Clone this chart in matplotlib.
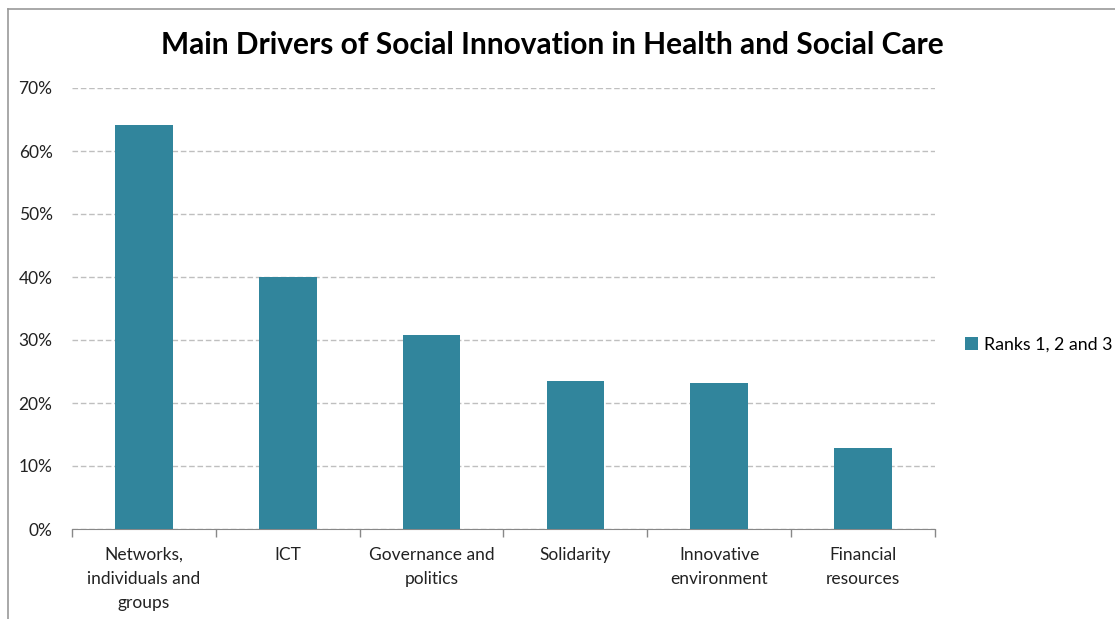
import matplotlib.pyplot as plt
import numpy as np
from matplotlib.lines import Line2D

categories = ['Networks,\nindividuals and\ngroups', 'ICT', 'Governance and\npolitics',
              'Solidarity', 'Innovative\nenvironment', 'Financial\nresources']
values = [64.2, 40.0, 30.8, 23.5, 23.2, 12.9]
series_name = 'Ranks 1, 2 and 3'

plt.rcParams['font.family'] = ['Lato', 'DejaVu Sans']

W, H = 1115, 619
fig = plt.figure(figsize=(W / 100, H / 100), dpi=100)
ax = fig.add_axes([72 / W, 1 - 529 / H, (935 - 72) / W, (529 - 88) / H])

x = np.arange(len(categories))
ax.bar(x, values, width=0.4, color='#31859c', label=series_name, zorder=3)

ax.set_xlim(-0.5, len(categories) - 0.5)
ax.set_ylim(0, 70)
ax.set_yticks(np.arange(0, 71, 10))
ax.set_yticklabels([f'{v}%' for v in range(0, 71, 10)], fontsize=12.5, color='#222222')
ax.yaxis.grid(True, linestyle=(0, (4, 2)), color='#bfbfbf', linewidth=1, zorder=0)
ax.tick_params(axis='y', length=0, pad=14)

ax.set_xticks(x)
ax.set_xticklabels(categories, fontsize=12.5, color='#222222', va='top', linespacing=1.6)
ax.tick_params(axis='x', length=0, pad=13)
ax.set_xticks(np.arange(-0.5, len(categories), 1), minor=True)
ax.tick_params(axis='x', which='minor', length=6, color='#888888', width=1)

for s in ['top', 'right', 'left']:
    ax.spines[s].set_visible(False)
ax.spines['bottom'].set_color('#888888')

fig.text(552 / W, 1 - 45 / H, 'Main Drivers of Social Innovation in Health and Social Care',
         ha='center', va='center', fontsize=21.5, fontweight='bold')

fig.legend(loc='center left', bbox_to_anchor=(965 / W, 1 - 345 / H),
           frameon=False, fontsize=12.8, handlelength=0.75, handleheight=0.75,
           handletextpad=0.3, borderpad=0, borderaxespad=0)

# outer chart border (top and left edges visible)
fig.add_artist(Line2D([8 / W, 8 / W], [0, 1 - 9 / H], transform=fig.transFigure, color='#999999', lw=1.2))
fig.add_artist(Line2D([8 / W, 1], [1 - 9 / H, 1 - 9 / H], transform=fig.transFigure, color='#999999', lw=1.2))

fig.savefig('out.png', dpi=100)
